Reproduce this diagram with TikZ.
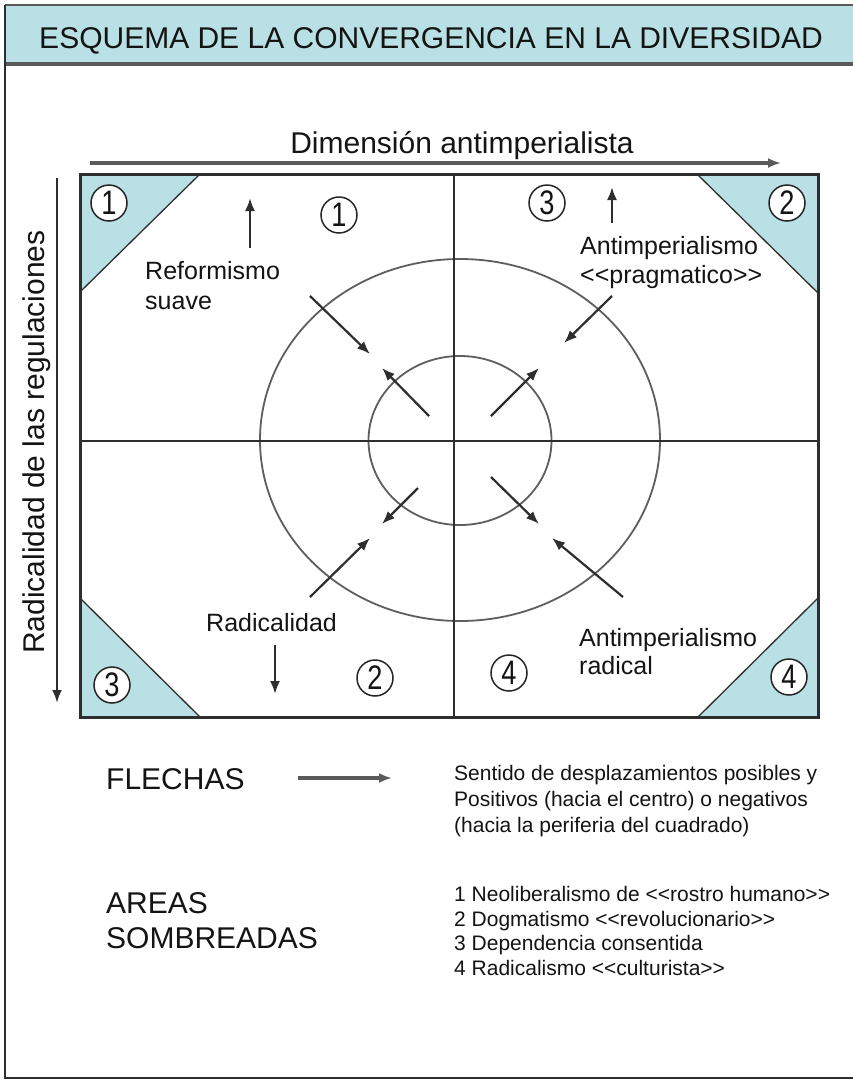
\documentclass[tikz,border=0pt]{standalone}
\usepackage{fontspec}
\setmainfont{Liberation Sans}
\newfontfamily\narrowf[FakeStretch=0.8]{Liberation Sans}
\usetikzlibrary{arrows.meta}
\definecolor{tealf}{HTML}{B9E0E4}
\definecolor{linec}{HTML}{2E2E2E}
\definecolor{grayl}{HTML}{5A5A5A}
\definecolor{ellc}{HTML}{5E5E5E}
\definecolor{txt}{HTML}{141414}
\begin{document}
\begin{tikzpicture}[x=1pt,y=-1pt,
  tipd/.style={-{Latex[length=13pt,width=10pt]}},
  arr/.style={draw=linec, line width=2.2pt, tipd},
  axisarr/.style={draw=grayl, line width=3.2pt, -{Latex[length=13pt,width=10pt]}},
  circnum/.style={circle, draw=black!85, line width=1.5pt, fill=white, minimum size=36pt, inner sep=0pt, font=\narrowf\fontsize{34}{34}\selectfont, text=txt},
  lbl/.style={font=\fontsize{25}{30}\selectfont, text=txt, inner sep=0pt, anchor=base west},
  big/.style={font=\fontsize{30}{36}\selectfont, text=txt, inner sep=0pt},
  small/.style={font=\fontsize{21}{26}\selectfont, text=txt, inner sep=0pt, anchor=base west},
  corner/.style={fill=tealf, draw=linec, line width=1.3pt}
]
\useasboundingbox (0,0) rectangle (853,1080);
\fill[white] (0,0) rectangle (853,1080);
% header
\fill[tealf] (5,5) rectangle (853,64);
\draw[grayl, line width=2.5pt] (5,5) -- (853,5);
\draw[grayl, line width=3.5pt] (5,64) -- (853,64);
\node[big, anchor=base] (title) at (431,48) {ESQUEMA DE LA CONVERGENCIA EN LA DIVERSIDAD};
% outer frame
\draw[linec, line width=2.5pt] (5,5) -- (5,1078) -- (853,1078);
% corner triangles
\path[corner] (80,174) -- (200,174) -- (80,292) -- cycle;
\path[corner] (697,174) -- (818,174) -- (818,293) -- cycle;
\path[corner] (80,598) -- (200,717) -- (80,717) -- cycle;
\path[corner] (818,598) -- (818,717) -- (698,717) -- cycle;
% main box
\draw[linec, line width=3pt] (80,174) rectangle (818,717);
% ellipses
\draw[ellc, line width=1.8pt] (460,440) ellipse [x radius=200, y radius=181];
\draw[ellc, line width=1.8pt] (460,440.5) ellipse [x radius=91.5, y radius=84.5];
% quadrant lines
\coordinate (vt) at (454,174); \coordinate (vb) at (454,717);
\coordinate (hl) at (80,441); \coordinate (hr) at (818,441);
\draw[linec, line width=2.8pt] (vt) -- (vb);
\draw[linec, line width=2.8pt] (hl) -- (hr);
% axes
\coordinate (axs) at (90,163); \coordinate (axe) at (781,163);
\draw[axisarr] (axs) -- (axe);
\node[big, anchor=base] (dimx) at (462,153) {Dimensión antimperialista};
\coordinate (ays) at (57,178); \coordinate (aye) at (57,703);
\draw[axisarr, draw=linec, line width=2.6pt] (ays) -- (aye);
\node[big, anchor=base, rotate=90] (dimy) at (44,442) {Radicalidad de las regulaciones};
% circled numbers
\node[circnum] (c1a) at (109,203) {1};
\node[circnum] (c1b) at (339,215) {1};
\node[circnum] (c3a) at (547,203) {3};
\node[circnum] (c2a) at (787,203) {2};
\node[circnum] (c3b) at (112,685) {3};
\node[circnum] (c2b) at (375,678) {2};
\node[circnum] (c4a) at (509,673) {4};
\node[circnum] (c4b) at (789,677) {4};
% labels
\node[lbl] (ref1) at (145,279) {Reformismo};
\node[lbl] (ref2) at (145,309) {suave};
\node[lbl] (ap1) at (580,254) {Antimperialismo};
\node[lbl] (ap2) at (580,283) {<{}<pragmatico>{}>};
\node[lbl] (rad) at (206,631) {Radicalidad};
\node[lbl] (ar1) at (579,646) {Antimperialismo};
\node[lbl] (ar2) at (579,674) {radical};
% vertical small arrows
\coordinate (u1s) at (250,248); \coordinate (u1e) at (250,198);
\draw[arr] (u1s) -- (u1e);
\coordinate (u2s) at (612,223); \coordinate (u2e) at (612,187);
\draw[arr] (u2s) -- (u2e);
\coordinate (d1s) at (275,645); \coordinate (d1e) at (275,694);
\draw[arr] (d1s) -- (d1e);
% diagonal arrows (outer, inward)
\coordinate (o1s) at (310,296); \coordinate (o1e) at (370,354);
\coordinate (o2s) at (612,296); \coordinate (o2e) at (564,343);
\coordinate (o3s) at (310,597); \coordinate (o3e) at (370,538);
\coordinate (o4s) at (623,597); \coordinate (o4e) at (552,538);
\draw[arr] (o1s) -- (o1e);
\draw[arr] (o2s) -- (o2e);
\draw[arr] (o3s) -- (o3e);
\draw[arr] (o4s) -- (o4e);
% inner, outward
\coordinate (i1s) at (429,416); \coordinate (i1e) at (382,368);
\coordinate (i2s) at (491,416); \coordinate (i2e) at (539,368);
\coordinate (i3s) at (418,488); \coordinate (i3e) at (382,524);
\coordinate (i4s) at (491,477); \coordinate (i4e) at (539,524);
\draw[arr] (i1s) -- (i1e);
\draw[arr] (i2s) -- (i2e);
\draw[arr] (i3s) -- (i3e);
\draw[arr] (i4s) -- (i4e);
% legend
\node[big, anchor=base west] (fle) at (106,789) {FLECHAS};
\coordinate (las) at (298,778); \coordinate (lae) at (392,778);
\draw[axisarr] (las) -- (lae);
\node[small] (s1) at (454,780) {Sentido de desplazamientos posibles y};
\node[small] (s2) at (454,806) {Positivos (hacia el centro) o negativos};
\node[small] (s3) at (454,832) {(hacia la periferia del cuadrado)};
\node[big, anchor=base west] (are1) at (106,913) {AREAS};
\node[big, anchor=base west] (are2) at (106,948) {SOMBREADAS};
\node[small] (l1) at (454,901) {1 Neoliberalismo de <{}<rostro humano>{}>};
\node[small] (l2) at (454,926) {2 Dogmatismo <{}<revolucionario>{}>};
\node[small] (l3) at (454,950) {3 Dependencia consentida};
\node[small] (l4) at (454,975) {4 Radicalismo <{}<culturista>{}>};
\end{tikzpicture}
\end{document}
